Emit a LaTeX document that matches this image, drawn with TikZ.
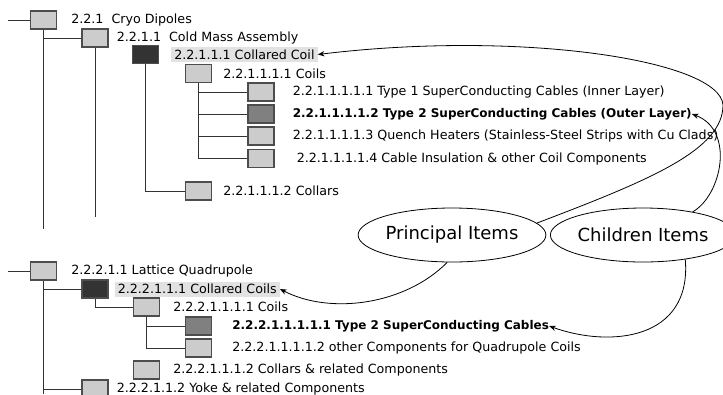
\documentclass[tikz,border=0pt]{standalone}
\usepackage{fontspec}
\setmainfont{DejaVu Sans}
\usetikzlibrary{shapes,arrows.meta}
\usetikzlibrary{positioning}
\definecolor{boxgray}{RGB}{204,204,204}
\definecolor{boxdark}{RGB}{51,51,51}
\definecolor{boxmid}{RGB}{128,128,128}
\definecolor{boxedge}{RGB}{77,77,77}
\definecolor{hlgray}{RGB}{226,226,226}
\newcommand\wbsitem[5][lightbox]{%
  \node[#1] (#2) at (#3) {};
  \node[wbstext,right=#4 of #2] (#2t) {#5};
}
\newcommand\boldpart{\fontsize{9pt}{11pt}\selectfont\bfseries}

\begin{document}
\begin{tikzpicture}[
x=0.75pt, y=-0.75pt,
wbsbox/.style={
  draw=boxedge,
  line width=0.8pt,
  minimum width=19.5pt,
  minimum height=13.5pt,
  inner sep=0pt},
lightbox/.style={wbsbox, fill=boxgray},
darkbox/.style={wbsbox, fill=boxdark},
midbox/.style={wbsbox, fill=boxmid},
wbstext/.style={inner sep=0pt, font=\fontsize{9.5pt}{11pt}\selectfont},
hltext/.style={wbstext, fill=hlgray, inner xsep=2.25pt, minimum height=11.25pt},
tree/.style={draw=black!80, line width=0.75pt},
bubble/.style={ellipse, draw, line width=0.6pt, minimum height=40.5pt,
  inner sep=0pt, font=\fontsize{13.5pt}{16pt}\selectfont},
pointer/.style={-{Stealth[length=5pt,width=4pt]}, line width=0.6pt}
]
\fill[white] (0,0) rectangle (723,394);
\useasboundingbox (0,0) rectangle (723,394);

\wbsitem{cryo}{43.5,20}{10.5pt}{2.2.1\ \ Cryo Dipoles}
\wbsitem{cold}{95,38}{6pt}{2.2.1.1\ \ Cold Mass Assembly}
\node[darkbox] (coll) at (145.5,54.5) {};
\node[hltext,right=9pt of coll] (collt) {2.2.1.1.1\ Collared Coil};
\wbsitem{coils}{198.5,73.5}{8.25pt}{2.2.1.1.1.1 Coils}
\wbsitem{cab1}{261,92}{13.5pt}{2.2.1.1.1.1.1 Type 1 SuperConducting Cables (Inner Layer)}
\wbsitem[midbox]{cab2}{261,114}{13.5pt}{\boldpart 2.2.1.1.1.1.2 Type 2 SuperConducting Cables (Outer Layer)}
\wbsitem{quench}{261,136}{13.5pt}{2.2.1.1.1.1.3 Quench Heaters (Stainless-Steel Strips with Cu Clads)}
\wbsitem{insul}{261,158.5}{16.5pt}{2.2.1.1.1.1.4 Cable Insulation \& other Coil Components}
\wbsitem{collars}{198.5,191}{8.25pt}{2.2.1.1.1.2 Collars}

\coordinate (in1) at (8,20);
\coordinate (end1) at (43.5,229);
\coordinate (end2) at (95,217);
\draw[tree] (in1) -- (cryo.west);
\draw[tree] (cryo.south) -- (end1);
\draw[tree] (cryo.south |- cold) -- (cold.west);
\draw[tree] (cold.south) -- (end2);
\draw[tree] (coll.south) |- (collars.west);
\draw[tree] (coils.south) |- (insul.west);
\foreach \n in {cab1,cab2,quench}
  \draw[tree] (coils.south |- \n) -- (\n.west);

\wbsitem{quad}{43.5,271}{10.5pt}{2.2.2.1.1 Lattice Quadrupole}
\node[darkbox] (qcoll) at (95,289) {};
\node[hltext,right=4.5pt of qcoll] (qcollt) {2.2.2.1.1.1 Collared Coils};
\wbsitem{qcoils}{146.5,307}{9.75pt}{2.2.2.1.1.1.1 Coils}
\wbsitem[midbox]{qcab}{198.5,326}{15pt}{\boldpart 2.2.2.1.1.1.1.1 Type 2 SuperConducting Cables}
\wbsitem{qother}{198.5,348}{15pt}{2.2.2.1.1.1.1.2 other Components for Quadrupole Coils}
\wbsitem{qcollars}{146.5,370}{9.75pt}{2.2.2.1.1.1.2 Collars \& related Components}
\wbsitem{yoke}{95,389}{6pt}{2.2.2.1.1.2 Yoke \& related Components}

\coordinate (in2) at (8,271);
\coordinate (end3) at (43.5,394);
\draw[tree] (in2) -- (quad.west);
\draw[tree] (quad.south) -- (end3);
\draw[tree] (quad.south |- qcoll) -- (qcoll.west);
\draw[tree] (quad.south |- yoke) -- (yoke.west);
\draw[tree] (qcoll.south) |- (qcoils.west);
\draw[tree] (qcoils.south) |- (qother.west);
\draw[tree] (qcoils.south |- qcab) -- (qcab.west);

\node[bubble, minimum width=127.5pt] (princ) at (452,235) {Principal Items};
\node[bubble, minimum width=117pt] (child) at (643,235) {Children Items};

\draw[pointer] (princ.8) .. controls (650,180) and (723,150) .. (723,105)
  .. controls (720,60) and (520,30) .. (collt.east);
\draw[pointer] (princ.-100) .. controls (405,305) and (330,315) .. (qcollt.east);
\draw[pointer] (child.25) .. controls (722,195) and (735,130) .. (cab2t.east);
\draw[pointer] (child.-30) .. controls (692,340) and (610,348) .. (qcabt.east);
\end{tikzpicture}
\end{document}
